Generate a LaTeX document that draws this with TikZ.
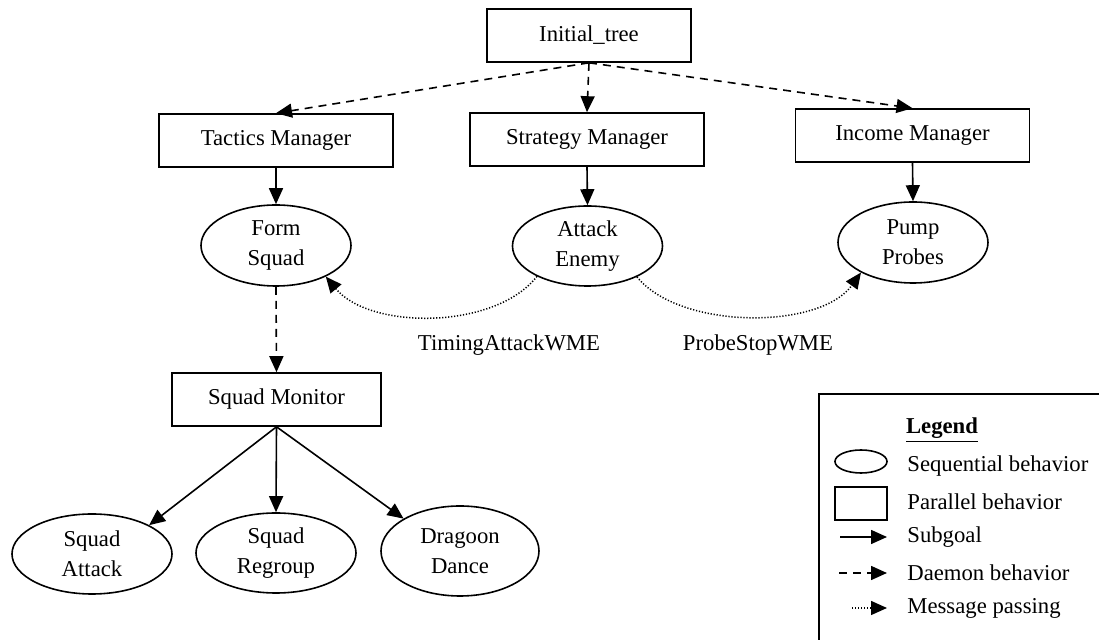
\documentclass[tikz,border=0pt]{standalone}
\usepackage{fontspec}
\setmainfont{Liberation Serif}
\usetikzlibrary{arrows.meta,shapes.geometric}
\tikzset{
    parbox/.style={draw, line width=0.8pt, rectangle, minimum height=26.5pt, inner sep=0pt},
    seqbox/.style={draw, line width=0.8pt, ellipse, inner sep=0pt, align=center},
    subgoal/.style={-{Triangle[length=8pt,width=7pt]}, line width=0.8pt},
    daemon/.style={subgoal, dash pattern=on 4pt off 3pt},
    message/.style={-{Triangle[length=8pt,width=7pt]}, line width=0.75pt, dash pattern=on 0.6pt off 0.9pt},
    legtext/.style={anchor=west, inner sep=0pt}
}
\begin{document}
\begin{tikzpicture}[x=0.5pt, y=-0.5pt, every node/.style={font=\fontsize{11.35}{15}\selectfont}]
        \useasboundingbox (0,0) rectangle (1099,640);

        % Root and managers
        \node[parbox, minimum width=102pt] (init) at (589,35.5) {Initial\_tree};
        \node[parbox, minimum width=117pt] (tm) at (276,140.5) {Tactics Manager};
        \node[parbox, minimum width=117pt] (sm) at (587,139.5) {Strategy Manager};
        \node[parbox, minimum width=117pt] (im) at (912.5,135.5) {Income Manager};

        % Behaviors under the managers
        \node[seqbox, minimum width=75pt, minimum height=40.5pt] (fs) at (276,245.5) {Form\\Squad};
        \node[seqbox, minimum width=75pt, minimum height=40pt] (ae) at (587.5,246) {Attack\\Enemy};
        \node[seqbox, minimum width=75pt, minimum height=40.5pt] (pp) at (913,242.5) {Pump\\Probes};

        % Messages
        \node (tawme) at (509,345) {TimingAttackWME};
        \node (pswme) at (758,345) {ProbeStopWME};

        % Squad monitor and its behaviors
        \node[parbox, minimum width=104.5pt] (smon) at (276.5,399.5) {Squad Monitor};
        \node[seqbox, minimum width=80pt, minimum height=40pt] (sqa) at (92,554) {Squad\\Attack};
        \node[seqbox, minimum width=80pt, minimum height=40pt] (sqr) at (276,553) {Squad\\Regroup};
        \node[seqbox, minimum width=79pt, minimum height=45pt] (dd) at (460,551) {Dragoon\\Dance};

        % Edges
        \draw[daemon] (init.south) -- (tm.north);
        \draw[daemon] (init.south) -- (sm.north);
        \draw[daemon] (init.south) -- (im.north);
        \draw[subgoal] (tm.south) -- (fs.north);
        \draw[subgoal] (sm.south) -- (ae.north);
        \draw[subgoal] (im.south) -- (pp.north);
        \draw[daemon] (fs.south) -- (smon.north);
        \draw[subgoal] (smon.south) -- (sqa.north east);
        \draw[subgoal] (smon.south) -- (sqr.north);
        \draw[subgoal] (smon.south) -- (dd.north west);
        \draw[message] (ae.211) .. controls (495,330) and (370,330) .. (fs.-32);
        \draw[message] (ae.-32) .. controls (680,330) and (820,330) .. (pp.210);

        % Legend
        \draw[line width=0.8pt] (819,394) rectangle (1110,650);
        \node (legtitle) at (942,430) {\textbf{\underline{Legend}}};
        \node[seqbox, minimum width=26pt, minimum height=11.5pt] (legseq) at (861,461.5) {};
        \node[parbox, minimum width=26pt, minimum height=16.5pt] (legpar) at (861,503.5) {};
        \coordinate (sgA) at (840,537);
        \coordinate (sgB) at (887,537);
        \coordinate (dmA) at (839,573);
        \coordinate (dmB) at (887,573);
        \coordinate (msA) at (852,608);
        \coordinate (msB) at (887,608);
        \draw[subgoal] (sgA) -- (sgB);
        \draw[daemon] (dmA) -- (dmB);
        \draw[message] (msA) -- (msB);
        \node[legtext] (legseqtxt) at (907,466) {Sequential behavior};
        \node[legtext] (legpartxt) at (907,502) {Parallel behavior};
        \node[legtext] (legsgtxt) at (907,537) {Subgoal};
        \node[legtext] (legdmtxt) at (907,573) {Daemon behavior};
        \node[legtext] (legmstxt) at (907,608) {Message passing};

    \end{tikzpicture}
\end{document}
